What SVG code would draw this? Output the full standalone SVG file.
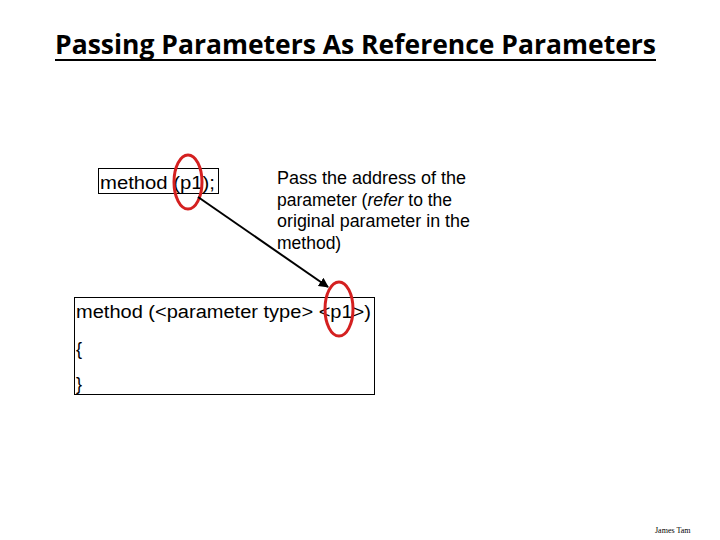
<svg xmlns="http://www.w3.org/2000/svg" width="720" height="540" viewBox="0 0 720 540">
<defs>
<style>
.t{font-family:"Liberation Sans",Arial,sans-serif;fill:#000}
.box{fill:none;stroke:#000;stroke-width:1}
.oval{fill:none;stroke:#d42020;stroke-width:3}
.con{stroke:#000;stroke-width:2;fill:none}
</style>
<marker id="ah" viewBox="0 0 10 10" refX="9" refY="5" markerWidth="5" markerHeight="5" orient="auto">
<path d="M0,0 L10,5 L0,10 z" fill="#000"/>
</marker>
</defs>
<rect width="720" height="540" fill="#fff"/>
<g id="title">
<text x="55" y="54" font-size="26" font-weight="bold" textLength="601" lengthAdjust="spacingAndGlyphs" style="font-family:'Open Sans',sans-serif;fill:#000">Passing Parameters As Reference Parameters</text>
<line x1="55" y1="60" x2="656" y2="60" stroke="#000" stroke-width="2"/>
</g>
<g id="call">
<rect class="box" x="98.5" y="168.5" width="120" height="25"/>
<text class="t" x="100" y="189" font-size="18" textLength="115" lengthAdjust="spacingAndGlyphs">method (p1);</text>
</g>
<g id="definition">
<rect class="box" x="74.5" y="297.5" width="300" height="97"/>
<text class="t" x="76" y="318" font-size="18" textLength="295" lengthAdjust="spacingAndGlyphs">method (&lt;parameter type&gt; &lt;p1&gt;)</text>
<text class="t" x="76" y="355" font-size="18">{</text>
<text class="t" x="76" y="390" font-size="18">}</text>
</g>
<g id="note">
<text class="t" font-size="17.5">
<tspan x="277" y="184" textLength="189" lengthAdjust="spacingAndGlyphs">Pass the address of the</tspan>
<tspan x="277" y="206">parameter (<tspan font-style="italic">refer</tspan> to the</tspan>
<tspan x="277" y="227" textLength="193" lengthAdjust="spacingAndGlyphs">original parameter in the</tspan>
<tspan x="277" y="249">method)</tspan>
</text>
</g>
<g id="highlights">
<ellipse class="oval" cx="188" cy="182" rx="14" ry="27"/>
<ellipse class="oval" cx="339" cy="309" rx="14" ry="27"/>
</g>
<g id="connectors">
<line class="con" x1="198" y1="197" x2="328" y2="287" marker-end="url(#ah)"/>
</g>
<g id="footer">
<text x="655" y="533" font-family="'Liberation Serif',serif" font-size="8" fill="#000">James Tam</text>
</g>
</svg>
